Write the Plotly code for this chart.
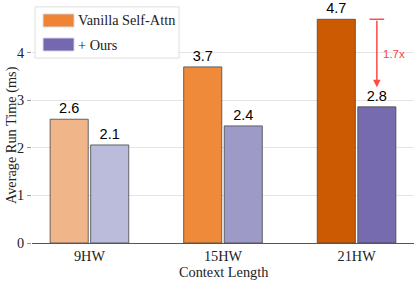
import plotly.graph_objects as go

categories = ["9HW", "15HW", "21HW"]
vanilla = [2.6, 3.7, 4.7]
ours = [2.06, 2.46, 2.86]
vanilla_labels = ["2.6", "3.7", "4.7"]
ours_labels = ["2.1", "2.4", "2.8"]
vanilla_colors = ["#F0B68A", "#EE8A3A", "#CB5A02"]
ours_colors = ["#BBBBDB", "#9E9AC8", "#766BAE"]
legend_names = ["Vanilla Self-Attn", "+ Ours"]
legend_colors = ["#EE8434", "#7567B0"]
speedup_text = "1.7x"
x_title = "Context Length"
y_title = "Average Run Time (ms)"

serif = "Liberation Serif, Times New Roman, serif"
sans = "Liberation Sans, Arial, sans-serif"
fs = 14.3

fig = go.Figure()
fig.add_bar(x=categories, y=vanilla, name=legend_names[0], text=vanilla_labels,
            marker=dict(color=vanilla_colors, line=dict(color="rgba(70,70,70,0.8)", width=1)),
            textposition="outside", textfont=dict(family=sans, size=14.5, color="black"),
            cliponaxis=False, showlegend=False, hoverinfo="skip")
fig.add_bar(x=categories, y=ours, name=legend_names[1], text=ours_labels,
            marker=dict(color=ours_colors, line=dict(color="rgba(70,70,70,0.8)", width=1)),
            textposition="outside", textfont=dict(family=sans, size=14.5, color="black"),
            cliponaxis=False, showlegend=False, hoverinfo="skip")

bargap = 0.393
slot = (1 - bargap) / 2
ours_x = 2 + slot / 2

red = "rgba(255,30,30,0.8)"
fig.add_annotation(x=ours_x, y=3.27, ax=ours_x, ay=vanilla[2], xref="x", yref="y",
                   axref="x", ayref="y", text="", showarrow=True, arrowhead=2,
                   arrowsize=1, arrowwidth=1.5, arrowcolor=red)
fig.add_shape(type="line", x0=ours_x - 0.055, x1=ours_x + 0.055, y0=vanilla[2], y1=vanilla[2],
              xref="x", yref="y", line=dict(color=red, width=1.5))
fig.add_annotation(x=ours_x + 0.03, y=3.98, xref="x", yref="y", text=speedup_text,
                   showarrow=False, xanchor="left", font=dict(family=sans, size=11.5, color="#FF4040"))

# manual legend
fig.add_shape(type="rect", xref="paper", yref="paper", x0=0.008, x1=0.385, y0=0.777, y1=0.992,
              fillcolor="white", line=dict(color="#DDDDDD", width=1), layer="above")
for i, (nm, col) in enumerate(zip(legend_names, legend_colors)):
    yc = 0.935 - i * 0.101
    fig.add_shape(type="rect", xref="paper", yref="paper", x0=0.029, x1=0.11,
                  y0=yc - 0.0273, y1=yc + 0.0273, fillcolor=col,
                  line=dict(color="rgba(215,215,230,0.9)", width=1), layer="above")
    fig.add_annotation(xref="paper", yref="paper", x=0.116, y=yc, text=nm, showarrow=False,
                       xanchor="left", yanchor="middle", font=dict(family=serif, size=fs, color="#222"))

# axis titles
fig.add_annotation(xref="paper", yref="paper", x=-0.052, y=0.454, text=y_title, textangle=-90,
                   showarrow=False, xanchor="center", yanchor="middle",
                   font=dict(family=serif, size=fs, color="#222"))
fig.add_annotation(xref="paper", yref="paper", x=0.5, y=-0.122, text=x_title,
                   showarrow=False, xanchor="center", yanchor="middle",
                   font=dict(family=serif, size=fs, color="#222"))

fig.update_layout(
    width=419, height=282,
    margin=dict(l=32, r=5, t=5, b=39),
    barmode="group", bargap=bargap, bargroupgap=0.06,
    plot_bgcolor="white", paper_bgcolor="white",
    showlegend=False, hovermode=False,
    xaxis=dict(range=[-0.43, 2.43], showline=True, linecolor="#555", linewidth=1,
               tickfont=dict(family=serif, size=fs, color="#222"), ticks="",
               showgrid=False, automargin=False, fixedrange=True),
    yaxis=dict(range=[0, 5.0], tickvals=[0, 1, 2, 3, 4], showgrid=True, gridcolor="#E5E5E5",
               ticks="outside", ticklen=4, tickcolor="#999", zeroline=False,
               tickfont=dict(family=serif, size=fs, color="#222"), automargin=False, fixedrange=True),
)

fig.write_html("out.html", config={"displayModeBar": False},
               post_script="document.body.style.margin='0';document.body.style.overflow='hidden';")
